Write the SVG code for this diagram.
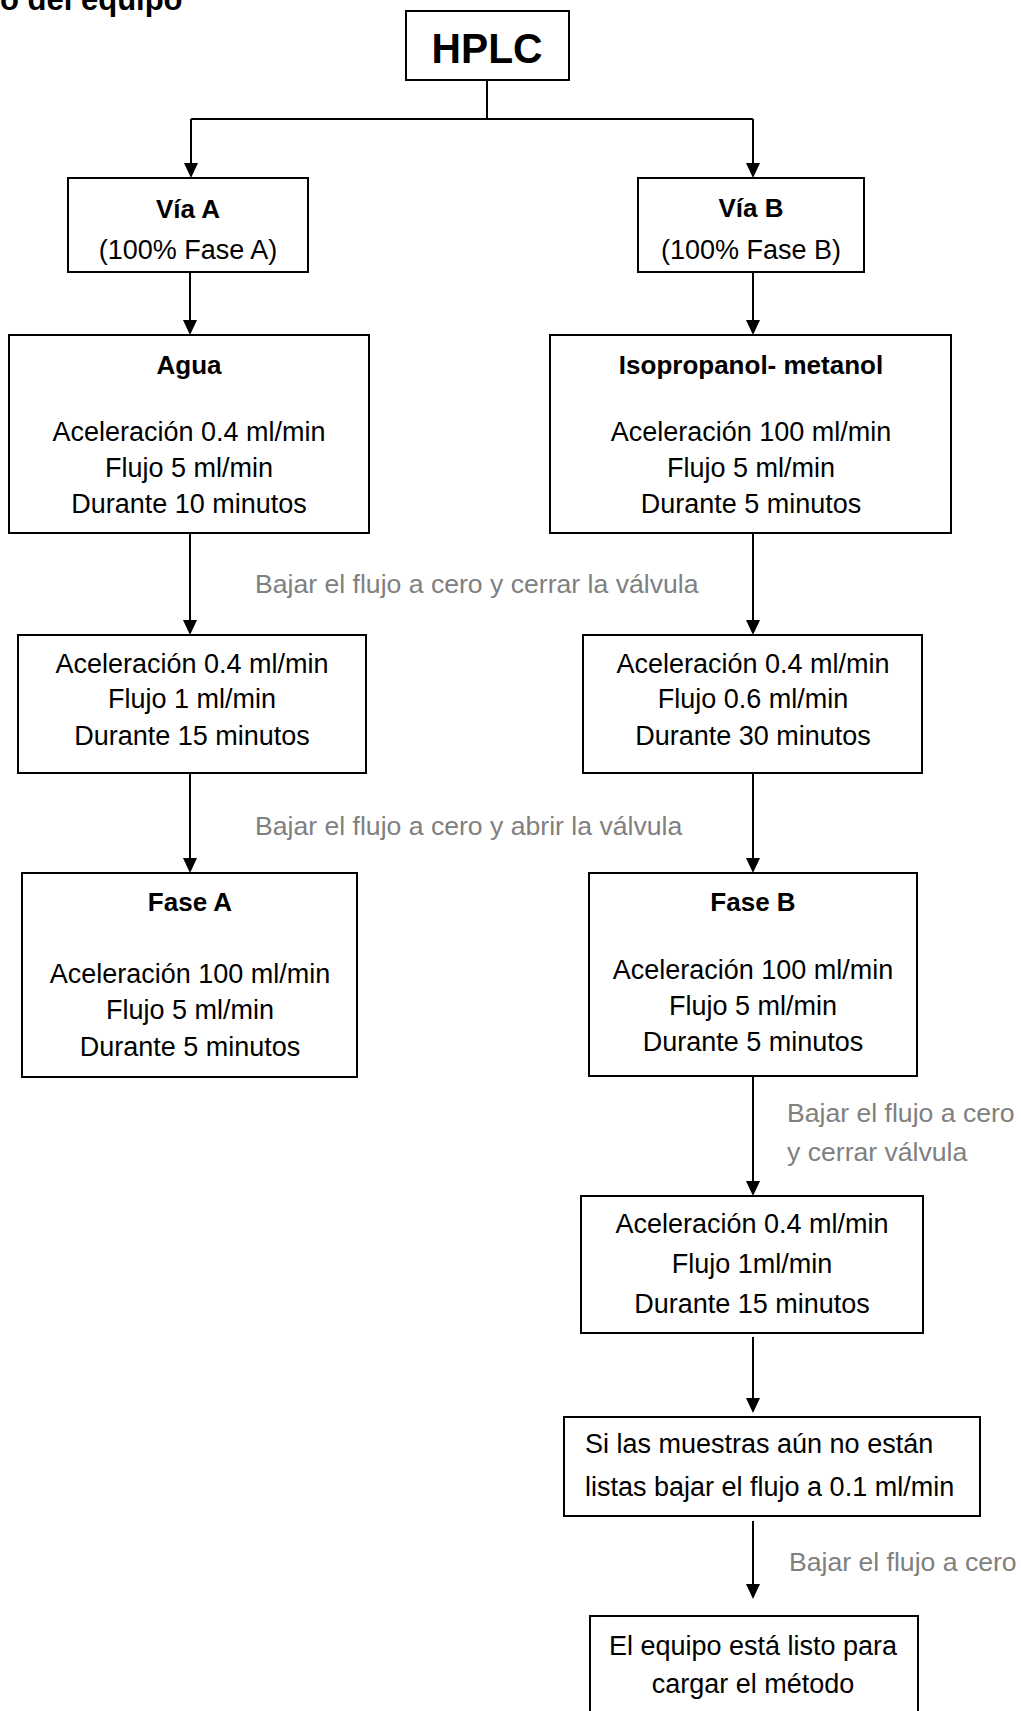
<svg xmlns="http://www.w3.org/2000/svg" width="1021" height="1711" viewBox="0 0 1021 1711">
<style>
.box{fill:#fff;stroke:#000;stroke-width:2}
.t{font-family:"Liberation Sans",Arial,sans-serif;font-size:27px;fill:#000;text-anchor:middle}
.b{font-weight:bold;font-size:26px}
.l{text-anchor:start}
.g{font-family:"Liberation Sans",Arial,sans-serif;font-size:26.6px;fill:#808080}
.c{fill:none;stroke:#000;stroke-width:2}
.a{marker-end:url(#arr)}
</style>
<defs>
<marker id="arr" markerUnits="userSpaceOnUse" viewBox="0 0 15 14" refX="7" refY="7" markerWidth="15" markerHeight="14" orient="auto">
<path d="M0,0 L15,7 L0,14 z" fill="#000"/>
</marker>
</defs>
<text x="0" y="10" font-family="Liberation Sans,Arial,sans-serif" font-size="31" font-weight="bold" fill="#000">o del equipo</text>
<g id="connectors">
<path class="c" d="M487,80 V119 M191,119 H753"/>
<path class="c a" d="M191,119 V170"/>
<path class="c a" d="M753,119 V170"/>
<path class="c a" d="M190,272 V327"/>
<path class="c a" d="M753,272 V327"/>
<path class="c a" d="M190,533 V627"/>
<path class="c a" d="M753,533 V627"/>
<path class="c a" d="M190,773 V865"/>
<path class="c a" d="M753,773 V865"/>
<path class="c a" d="M753,1076 V1188"/>
<path class="c a" d="M753,1337 V1405"/>
<path class="c a" d="M753,1521 V1591"/>
<text class="g" x="255" y="593">Bajar el flujo a cero y cerrar la válvula</text>
<text class="g" x="255" y="835">Bajar el flujo a cero y abrir la válvula</text>
<text class="g" x="787" y="1122">Bajar el flujo a cero</text>
<text class="g" x="787" y="1161">y cerrar válvula</text>
<text class="g" x="789" y="1571">Bajar el flujo a cero</text>
</g>
<g id="hplc">
<rect class="box" x="406" y="11" width="163" height="69"/>
<text x="487" y="63" font-family="Liberation Sans,Arial,sans-serif" font-size="42" font-weight="bold" text-anchor="middle" textLength="111" lengthAdjust="spacingAndGlyphs">HPLC</text>
</g>
<g id="via-a">
<rect class="box" x="68" y="178" width="240" height="94"/>
<text class="t b" x="188" y="218">Vía A</text>
<text class="t" x="188" y="259">(100% Fase A)</text>
</g>
<g id="via-b">
<rect class="box" x="638" y="178" width="226" height="94"/>
<text class="t b" x="751" y="217">Vía B</text>
<text class="t" x="751" y="259">(100% Fase B)</text>
</g>
<g id="agua">
<rect class="box" x="9" y="335" width="360" height="198"/>
<text class="t b" x="189" y="374">Agua</text>
<text class="t" x="189" y="441">Aceleración 0.4 ml/min</text>
<text class="t" x="189" y="477">Flujo 5 ml/min</text>
<text class="t" x="189" y="513">Durante 10 minutos</text>
</g>
<g id="isopropanol">
<rect class="box" x="550" y="335" width="401" height="198"/>
<text class="t b" x="751" y="374">Isopropanol- metanol</text>
<text class="t" x="751" y="441">Aceleración 100 ml/min</text>
<text class="t" x="751" y="477">Flujo 5 ml/min</text>
<text class="t" x="751" y="513">Durante 5 minutos</text>
</g>
<g id="a-paso2">
<rect class="box" x="18" y="635" width="348" height="138"/>
<text class="t" x="192" y="673">Aceleración 0.4 ml/min</text>
<text class="t" x="192" y="708">Flujo 1 ml/min</text>
<text class="t" x="192" y="745">Durante 15 minutos</text>
</g>
<g id="b-paso2">
<rect class="box" x="583" y="635" width="339" height="138"/>
<text class="t" x="753" y="673">Aceleración 0.4 ml/min</text>
<text class="t" x="753" y="708">Flujo 0.6 ml/min</text>
<text class="t" x="753" y="745">Durante 30 minutos</text>
</g>
<g id="fase-a">
<rect class="box" x="22" y="873" width="335" height="204"/>
<text class="t b" x="190" y="911">Fase A</text>
<text class="t" x="190" y="983">Aceleración 100 ml/min</text>
<text class="t" x="190" y="1019">Flujo 5 ml/min</text>
<text class="t" x="190" y="1056">Durante 5 minutos</text>
</g>
<g id="fase-b">
<rect class="box" x="589" y="873" width="328" height="203"/>
<text class="t b" x="753" y="911">Fase B</text>
<text class="t" x="753" y="979">Aceleración 100 ml/min</text>
<text class="t" x="753" y="1015">Flujo 5 ml/min</text>
<text class="t" x="753" y="1051">Durante 5 minutos</text>
</g>
<g id="b-paso4">
<rect class="box" x="581" y="1196" width="342" height="137"/>
<text class="t" x="752" y="1233">Aceleración 0.4 ml/min</text>
<text class="t" x="752" y="1273">Flujo 1ml/min</text>
<text class="t" x="752" y="1313">Durante 15 minutos</text>
</g>
<g id="muestras">
<rect class="box" x="564" y="1417" width="416" height="99"/>
<text class="t l" x="585" y="1453">Si las muestras aún no están</text>
<text class="t l" x="585" y="1496">listas bajar el flujo a 0.1 ml/min</text>
</g>
<g id="listo">
<rect class="box" x="590" y="1616" width="328" height="110"/>
<text class="t" x="753" y="1655">El equipo está listo para</text>
<text class="t" x="753" y="1693">cargar el método</text>
</g>
</svg>
